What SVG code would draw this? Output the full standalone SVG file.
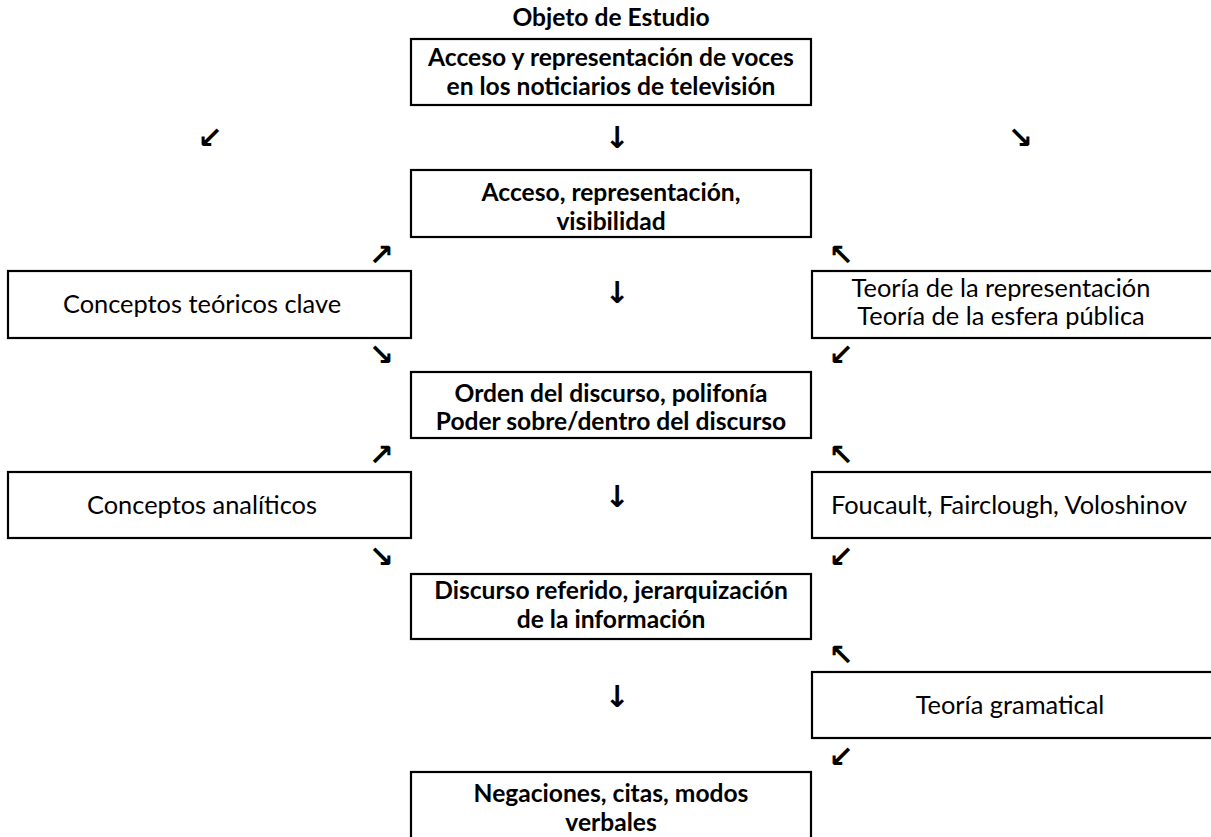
<svg xmlns="http://www.w3.org/2000/svg" width="1211" height="837" viewBox="0 0 1211 837">
<style>
.box{fill:#fff;stroke:#000;stroke-width:2.2}
.b{font-family:Lato,"Open Sans",sans-serif;font-weight:bold;font-size:24.6px;text-anchor:middle;fill:#000}
.r{font-family:Lato,"Open Sans",sans-serif;font-size:25.4px;text-anchor:middle;fill:#000}
.a{font-family:"DejaVu Sans",sans-serif;font-weight:bold;font-size:30px;text-anchor:middle;fill:#000}
</style>
<rect width="1211" height="837" fill="#fff"/>
<g id="title"><text class="b" x="611" y="26">Objeto de Estudio</text></g>
<g id="n1"><rect class="box" x="411" y="39" width="400" height="66"/>
<text class="b" x="611" y="66">Acceso y representación de voces</text>
<text class="b" x="611" y="95">en los noticiarios de televisión</text></g>
<g id="n2"><rect class="box" x="411" y="170" width="400" height="67"/>
<text class="b" x="611" y="201">Acceso, representación,</text>
<text class="b" x="611" y="230">visibilidad</text></g>
<g id="n3"><rect class="box" x="411" y="372" width="400" height="66"/>
<text class="b" x="611" y="402">Orden del discurso, polifonía</text>
<text class="b" x="611" y="430">Poder sobre/dentro del discurso</text></g>
<g id="n4"><rect class="box" x="411" y="574" width="400" height="65"/>
<text class="b" x="611" y="599">Discurso referido, jerarquización</text>
<text class="b" x="611" y="628">de la información</text></g>
<g id="n5"><rect class="box" x="411" y="772" width="400" height="80"/>
<text class="b" x="611" y="802">Negaciones, citas, modos</text>
<text class="b" x="611" y="831">verbales</text></g>
<g id="l1"><rect class="box" x="8" y="271" width="403" height="67"/>
<text class="r" x="202" y="313">Conceptos teóricos clave</text></g>
<g id="l2"><rect class="box" x="8" y="472" width="403" height="66"/>
<text class="r" x="202" y="514">Conceptos analíticos</text></g>
<g id="r1"><rect class="box" x="812" y="271" width="410" height="67"/>
<text class="r" x="1001" y="297">Teoría de la representación</text>
<text class="r" x="1001" y="325">Teoría de la esfera pública</text></g>
<g id="r2"><rect class="box" x="812" y="472" width="410" height="66"/>
<text class="r" x="1009" y="514">Foucault, Fairclough, Voloshinov</text></g>
<g id="r3"><rect class="box" x="812" y="672" width="410" height="66"/>
<text class="r" x="1010" y="714">Teoría gramatical</text></g>
<g id="connectors">
<text class="a" x="210" y="148">↙</text>
<text class="a" x="617" y="148">↓</text>
<text class="a" x="1020" y="148">↘</text>
<text class="a" x="381" y="265">↗</text>
<text class="a" x="841" y="265">↖</text>
<text class="a" x="617" y="303">↓</text>
<text class="a" x="381" y="365">↘</text>
<text class="a" x="841" y="365">↙</text>
<text class="a" x="381" y="465">↗</text>
<text class="a" x="841" y="465">↖</text>
<text class="a" x="617" y="507">↓</text>
<text class="a" x="381" y="567">↘</text>
<text class="a" x="841" y="567">↙</text>
<text class="a" x="841" y="665">↖</text>
<text class="a" x="617" y="707">↓</text>
<text class="a" x="841" y="767">↙</text>
</g>
</svg>
